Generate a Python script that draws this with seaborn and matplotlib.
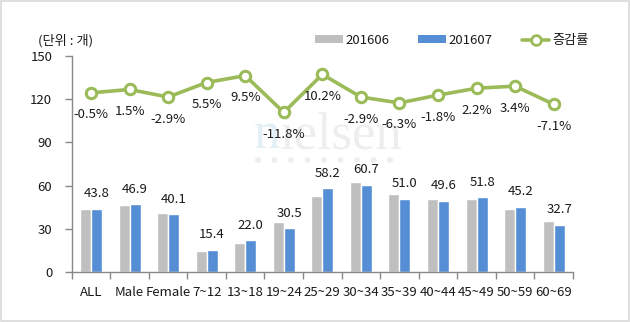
import matplotlib
matplotlib.use("Agg")
import matplotlib.pyplot as plt
import seaborn as sns
import pandas as pd
from matplotlib.patches import Rectangle, Patch, Ellipse
from matplotlib.lines import Line2D

categories = ["ALL", "Male", "Female", "7~12", "13~18", "19~24", "25~29",
              "30~34", "35~39", "40~44", "45~49", "50~59", "60~69"]
v201606 = [44.0, 46.2, 41.3, 14.6, 20.1, 34.6, 52.8, 62.5, 54.4, 50.5, 50.7, 43.7, 35.2]
v201607 = [43.8, 46.9, 40.1, 15.4, 22.0, 30.5, 58.2, 60.7, 51.0, 49.6, 51.8, 45.2, 32.7]
rates = [-0.5, 1.5, -2.9, 5.5, 9.5, -11.8, 10.2, -2.9, -6.3, -1.8, 2.2, 3.4, -7.1]
series = ["201606", "201607"]
yticks = [0, 30, 60, 90, 120, 150]

sns.set_theme(style="white")
plt.rcParams['font.family'] = ['Noto Sans CJK KR', 'DejaVu Sans']

GRAY = "#BFBFBF"
BLUE = "#558ED5"
GREEN = "#9BBB59"
AX = "#898989"
TXT = "#1a1a1a"

df = pd.DataFrame({
    "cat": categories * 2,
    "series": [series[0]] * len(categories) + [series[1]] * len(categories),
    "value": v201606 + v201607,
})
rdf = pd.DataFrame({"cat": categories, "rate": rates})

fig = plt.figure(figsize=(6.3, 3.22), dpi=100)
fig.patches.append(Rectangle((0.002, 0.004), 0.996, 0.992, transform=fig.transFigure,
                             fill=False, edgecolor="#d9d9d9", linewidth=1.2, zorder=-2))

# watermark (behind everything)
fig.text(0.403, 0.54, "n", fontsize=38, family="Liberation Serif", color="#e3eff6", zorder=-1)
fig.text(0.445, 0.54, "ielsen", fontsize=38, family="Liberation Serif", color="#eeeeee", zorder=-1)
for k in range(9):
    fig.patches.append(Ellipse((0.4095 + k * 0.0262, 0.503), 4.5 / 630, 4.5 / 322,
                               transform=fig.transFigure, color="#eeeeee", zorder=-1))

ax = fig.add_axes([0.1138, 0.1553, 0.7957, 0.6707])
ax.set_zorder(1)
ax.patch.set_alpha(0)
sns.barplot(data=df, x="cat", y="value", hue="series", palette=[GRAY, BLUE],
            width=0.57, ax=ax, legend=False, saturation=1, zorder=2)
ax.set_ylim(0, 150)
ax.set_xlim(-0.5, len(categories) - 0.5)
ax.set_yticks(yticks)
ax.set_yticklabels([str(t) for t in yticks], fontsize=9.5, color=TXT)
ax.set_xticks([i - 0.5 for i in range(len(categories) + 1)])
ax.set_xticklabels([])
ax.set_xticks(range(len(categories)), minor=True)
ax.set_xticklabels(categories, minor=True, fontsize=9.5, color=TXT)
ax.tick_params(axis="x", which="major", length=5, width=1, color=AX, direction="out", bottom=True)
ax.tick_params(axis="x", which="minor", length=0, pad=10)
ax.tick_params(axis="y", length=5, width=1, color=AX, direction="out", left=True, pad=9)
for s in ["top", "right"]:
    ax.spines[s].set_visible(False)
for s in ["left", "bottom"]:
    ax.spines[s].set_color(AX)
    ax.spines[s].set_linewidth(1)
ax.set_xlabel("")
ax.set_ylabel("")

for i, v in enumerate(v201607):
    ax.annotate(f"{v:.1f}", (i + 0.1425, v), xytext=(0, 15), textcoords="offset pixels",
                ha="center", va="center", fontsize=9.5, color=TXT)

ax2 = ax.twinx()
ax2.set_zorder(2)
sns.lineplot(data=rdf, x="cat", y="rate", ax=ax2, color=GREEN, linewidth=2.6,
             marker="o", markersize=7.5, markerfacecolor="white", markeredgecolor=GREEN,
             markeredgewidth=2.2, zorder=3)
ax2.set_ylim(-125 / 1.2, 25 / 1.2)
ax2.set_xlim(-0.5, len(categories) - 0.5)
ax2.axis("off")
for i, r in enumerate(rates):
    ax2.annotate(f"{r:.1f}%", (i, r), xytext=(0, -22), textcoords="offset pixels",
                 ha="center", va="center", fontsize=9.5, color=TXT)

fig.text(0.06, 0.874, "(단위 : 개)", fontsize=9.5, color=TXT, va="center")

handles = [Patch(facecolor=GRAY, edgecolor="none"), Patch(facecolor=BLUE, edgecolor="none"),
           Line2D([], [], color=GREEN, linewidth=2.6, marker="o", markersize=7,
                  markerfacecolor="white", markeredgecolor=GREEN, markeredgewidth=2)]
fig.legend(handles, ["201606", "201607", "증감률"], ncol=3, frameon=False,
           loc="center left", bbox_to_anchor=(0.481, 0.874), fontsize=9.5,
           handlelength=2.1, handleheight=0.55, handletextpad=0.2, columnspacing=2.2,
           labelcolor=TXT)

fig.savefig("out.png", dpi=100)
